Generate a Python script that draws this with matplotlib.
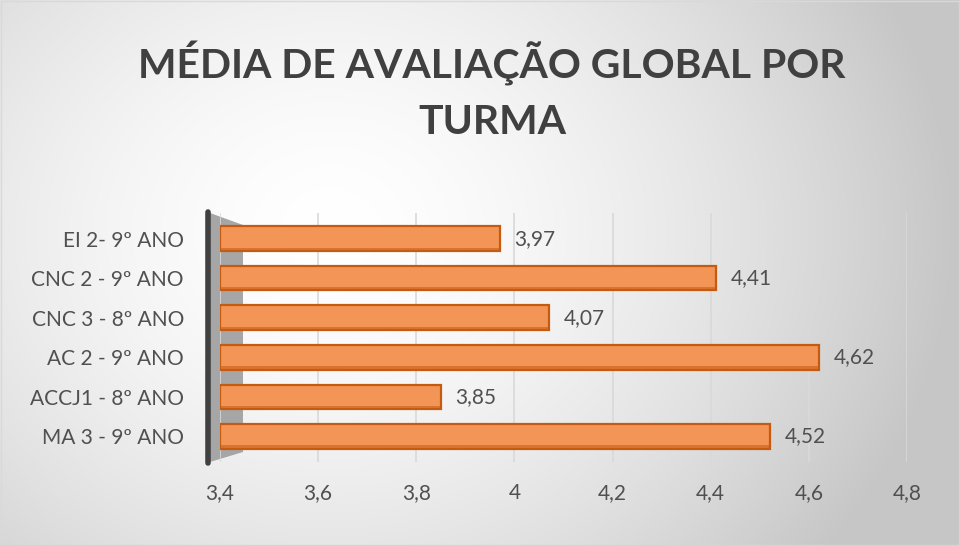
import matplotlib.pyplot as plt
import numpy as np
from matplotlib.patches import Polygon, Rectangle

# data
categories = ["EI 2- 9º ANO", "CNC 2 - 9º ANO", "CNC 3 - 8º ANO",
              "AC 2 - 9º ANO", "ACCJ1 - 8º ANO", "MA 3 - 9º ANO"]
values = [3.97, 4.41, 4.07, 4.62, 3.85, 4.52]
x_ticks = [3.4, 3.6, 3.8, 4.0, 4.2, 4.4, 4.6, 4.8]
x_tick_labels = ["3,4", "3,6", "3,8", "4", "4,2", "4,4", "4,6", "4,8"]
title = "MÉDIA DE AVALIAÇÃO GLOBAL POR\nTURMA"

W, H = 959, 545
TEXT = "#505050"
TITLE = "#404040"
BAR_FACE = "#F29556"
BAR_EDGE = "#C55A11"
GRID = "#D9D9D9"

plt.rcParams["font.family"] = ["Lato", "DejaVu Sans"]

fig = plt.figure(figsize=(W / 100, H / 100), dpi=100)

# radial gradient background
bg = fig.add_axes([0, 0, 1, 1], zorder=-10)
yy, xx = np.mgrid[0:H, 0:W]
d = np.sqrt(((xx - 330) / 620) ** 2 + ((yy - 230) / 520) ** 2)
shade = 1.0 - 0.22 * np.clip(d, 0, 1) ** 1.6
bg.imshow(np.dstack([shade] * 3), extent=[0, W, H, 0], aspect="auto")
bg.add_patch(Rectangle((0.5, 0.5), W - 1, H - 1, fill=False, edgecolor="#D9D9D9", lw=1))
bg.set_xlim(0, W)
bg.set_ylim(H, 0)
bg.axis("off")

# left wall of the 3D plot
bg.add_patch(Polygon([(210, 213), (243, 225), (243, 452), (210, 462)],
                     closed=True, facecolor="#A6A6A6", edgecolor="none"))
bg.plot([207.5, 207.5], [212, 463], color="#404040", lw=4, solid_capstyle="round")

left, right = 220 / W, 907 / W
bottom, top = 1 - 462 / H, 1 - 213 / H
ax = fig.add_axes([left, bottom, right - left, top - bottom])
ax.patch.set_alpha(0)

y = np.arange(len(categories))
ax.barh(y, [v - x_ticks[0] for v in values], left=x_ticks[0], height=0.62,
        color=BAR_FACE, edgecolor=BAR_EDGE, linewidth=1.6, zorder=3)
# darker bottom face
ax.barh(y + 0.27, [v - x_ticks[0] for v in values], left=x_ticks[0], height=0.08,
        color=BAR_EDGE, alpha=0.55, linewidth=0, zorder=4)

for yi, v in zip(y, values):
    ax.text(v + 0.03, yi, f"{v:.2f}".replace(".", ","), va="center", ha="left",
            fontsize=15, color=TEXT, zorder=5)

ax.set_xlim(x_ticks[0], x_ticks[-1])
ax.set_ylim(len(categories) - 0.35, -0.65)
ax.set_xticks(x_ticks)
ax.set_xticklabels(x_tick_labels)
ax.set_yticks(y)
ax.set_yticklabels(categories)
ax.tick_params(axis="x", length=0, pad=15, labelsize=15, colors=TEXT)
ax.tick_params(axis="y", length=0, pad=26, labelsize=15, colors=TEXT)
for s in ax.spines.values():
    s.set_visible(False)
ax.xaxis.grid(True, color=GRID, lw=1.2)
ax.set_axisbelow(True)

fig.text(492 / W, 1 - 91 / H, title, ha="center", va="center", fontsize=29.4,
         fontweight="bold", color=TITLE, linespacing=1.62)

fig.savefig("out.png", dpi=100)
